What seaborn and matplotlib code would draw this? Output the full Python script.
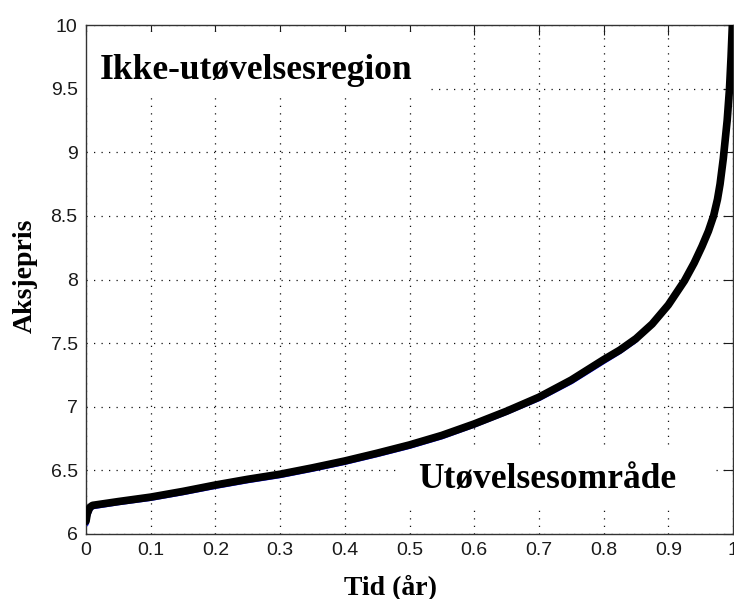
import matplotlib
matplotlib.use("Agg")
import matplotlib.pyplot as plt
from matplotlib.patches import Rectangle
import seaborn as sns
import pandas as pd

# ---- data ----
tid = [0.0, 0.002, 0.006, 0.01, 0.05, 0.1, 0.15, 0.2, 0.25, 0.3, 0.35, 0.4, 0.45,
       0.5, 0.55, 0.6, 0.65, 0.7, 0.75, 0.8, 0.825, 0.85, 0.875, 0.9, 0.925, 0.94,
       0.952, 0.962, 0.97, 0.976, 0.98, 0.985, 0.988, 0.991, 0.9946, 0.997, 0.999]
aksjepris = [6.10, 6.16, 6.21, 6.225, 6.255, 6.29, 6.335, 6.385, 6.43, 6.47, 6.52,
             6.574, 6.635, 6.70, 6.775, 6.865, 6.965, 7.075, 7.21, 7.37, 7.445, 7.535,
             7.65, 7.80, 7.99, 8.13, 8.26, 8.38, 8.5, 8.63, 8.75, 8.95, 9.1, 9.25,
             9.5, 9.75, 10.0]
# faint blue curve peeking out below the thick black one
tid_blue = [0.0, 0.002, 0.006, 0.01, 0.05, 0.1, 0.15, 0.2, 0.25, 0.3, 0.35, 0.4,
            0.45, 0.5, 0.55, 0.6, 0.65, 0.7, 0.75, 0.8, 0.825, 0.85]
pris_blue = [6.08, 6.14, 6.195, 6.215, 6.247, 6.281, 6.326, 6.375, 6.42, 6.46, 6.51,
             6.564, 6.625, 6.69, 6.765, 6.857, 6.957, 7.065, 7.198, 7.357, 7.435, 7.525]

x_ticks = [0, 0.1, 0.2, 0.3, 0.4, 0.5, 0.6, 0.7, 0.8, 0.9, 1]
x_ticklabels = ["0", "0.1", "0.2", "0.3", "0.4", "0.5", "0.6", "0.7", "0.8", "0.9", "1"]
y_ticks = [6, 6.5, 7, 7.5, 8, 8.5, 9, 9.5, 10]
y_ticklabels = ["6", "6.5", "7", "7.5", "8", "8.5", "9", "9.5", "10"]

label_top = "Ikke-utøvelsesregion"
label_bottom = "Utøvelsesområde"
x_label = "Tid (år)"
y_label = "Aksjepris"

df = pd.DataFrame({"Tid": tid, "Pris": aksjepris})
df_blue = pd.DataFrame({"Tid": tid_blue, "Pris": pris_blue})

sns.set_style("white")
plt.rcParams["font.family"] = ["Liberation Sans", "DejaVu Sans"]
plt.rcParams["text.color"] = "black"

fig = plt.figure(figsize=(7.34, 5.99), dpi=100)
ax = fig.add_axes([86 / 734, (599 - 534) / 599, (733 - 86) / 734, (534 - 25) / 599])

sns.lineplot(data=df_blue, x="Tid", y="Pris", ax=ax, color="#1010ff", linewidth=4.0,
             sort=False, estimator=None, zorder=2)
sns.lineplot(data=df, x="Tid", y="Pris", ax=ax, color="black", linewidth=5.5,
             sort=False, estimator=None, zorder=3)

ax.set_xlim(0, 1)
ax.set_ylim(6, 10)
ax.set_xticks(x_ticks)
ax.set_xticklabels(x_ticklabels)
ax.set_yticks(y_ticks)
ax.set_yticklabels(y_ticklabels)

ax.set_axisbelow(True)
ax.grid(True, linestyle=(0, (1, 5)), linewidth=0.9, color="#111111")
ax.tick_params(direction="in", length=7, width=0.8, top=True, right=True,
               labelsize=14, pad=6, colors="#1a1a1a")
for s in ax.spines.values():
    s.set_color("#333333")
    s.set_linewidth(1.0)

# white masks behind the region labels (grid is hidden there)
ax.add_patch(Rectangle((0.0, 0.8585), 0.529, 0.1275, transform=ax.transAxes,
                       facecolor="white", edgecolor="none", zorder=0.8))
ax.add_patch(Rectangle((0.481, 0.047), 0.491, 0.124, transform=ax.transAxes,
                       facecolor="white", edgecolor="none", zorder=0.8))

serif = ["Liberation Serif", "DejaVu Serif"]
ax.text(0.0216, 9.576, label_top, family=serif, fontweight="bold", fontsize=25.5,
        va="baseline", ha="left", zorder=4, color="black")
ax.text(0.513, 6.36, label_bottom, family=serif, fontweight="bold", fontsize=25.5,
        va="baseline", ha="left", zorder=4, color="black")

ax.set_xlabel(x_label, family=serif, fontweight="bold", fontsize=20, color="black")
ax.set_ylabel(y_label, family=serif, fontweight="bold", fontsize=20, color="black")
ax.xaxis.set_label_coords(0.471, -0.078)
ax.yaxis.set_label_coords(-0.074, 0.508)

fig.savefig("out.png", dpi=100)
